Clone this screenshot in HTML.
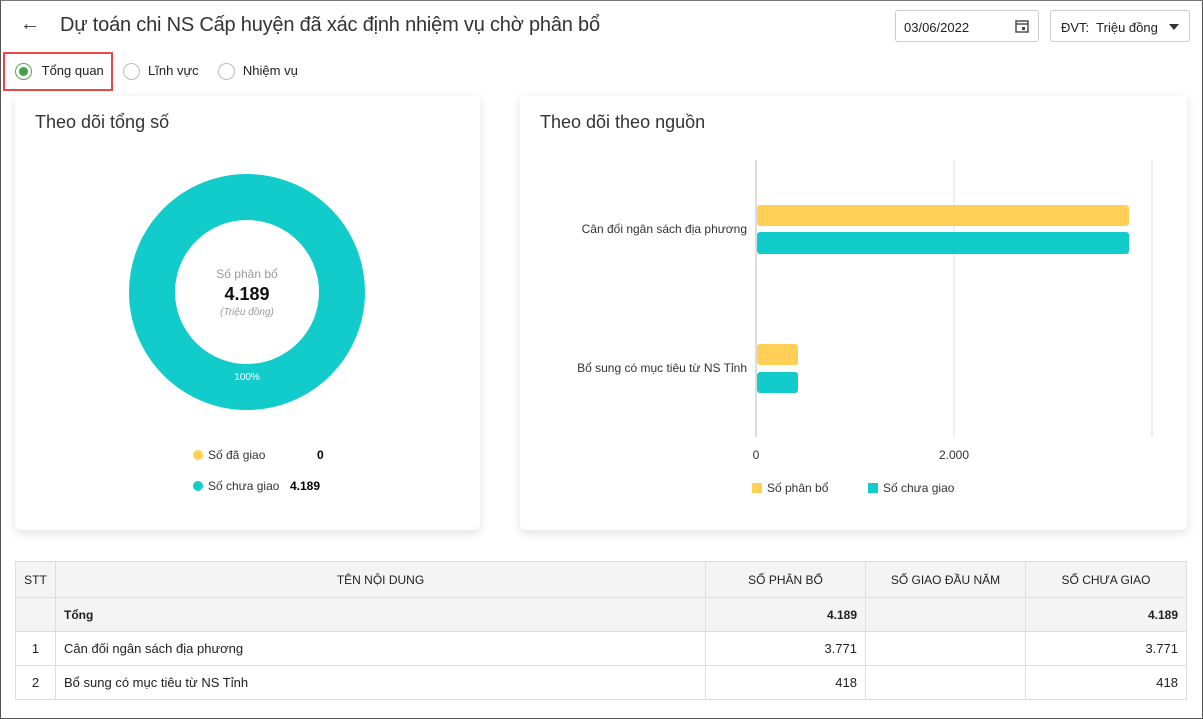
<!DOCTYPE html>
<html><head><meta charset="utf-8"><style>
*{box-sizing:border-box;margin:0;padding:0}
body{width:1203px;height:719px;background:#fff;font-family:"Liberation Sans",sans-serif;color:#212121;position:relative;overflow:hidden}
.frame{position:absolute;left:0;top:0;width:1203px;height:719px;border:1px solid #555;border-top-color:#777;pointer-events:none}
.abs{position:absolute}
.card{position:absolute;background:#fff;border-radius:6px;box-shadow:0 3px 10px rgba(0,0,0,.12)}
table{position:absolute;left:15px;top:561px;width:1172px;border-collapse:collapse;font-size:13px}
td,th{border:1px solid #ddd;height:34px;padding:0 8px}
th{background:#f4f4f4;font-weight:normal;font-size:12px;height:36px}
.r{text-align:right}.c{text-align:center}
tr.t td{background:#f4f4f4;font-weight:bold;font-size:12px}
.radio{display:inline-block;width:17px;height:17px;border:1px solid #bbb;border-radius:50%;vertical-align:middle;position:relative}
</style></head><body>
<div class="abs" style="left:20px;top:13px;font-size:20px;color:#333">←</div>
<div class="abs" style="left:60px;top:14px;font-size:20px;color:#333;letter-spacing:-0.2px">Dự toán chi NS Cấp huyện đã xác định nhiệm vụ chờ phân bổ</div>
<div class="abs" style="left:895px;top:10px;width:144px;height:32px;border:1px solid #ccc;border-radius:3px;font-size:13px;padding:9px 8px">03/06/2022
<svg style="position:absolute;right:8px;top:7px" width="16" height="16"><rect x="2" y="3" width="12" height="11" fill="none" stroke="#444" stroke-width="1.4"/><line x1="2" y1="6" x2="14" y2="6" stroke="#444" stroke-width="1.4"/><rect x="8" y="9" width="3" height="3" fill="#444"/></svg></div>
<div class="abs" style="left:1050px;top:10px;width:140px;height:32px;border:1px solid #ccc;border-radius:3px;font-size:13px;padding:9px 10px">ĐVT:&nbsp; Triệu đồng<span style="position:absolute;right:10px;top:13px;border:5px solid transparent;border-top:6px solid #333"></span></div>
<div class="abs" style="left:3px;top:52px;width:110px;height:39px;border:2px solid #e84848"></div>
<div class="abs" style="left:15px;top:62px;font-size:13px;line-height:18px">
<span class="radio" style="border-color:#4caf50"><span style="position:absolute;left:3px;top:3px;width:9px;height:9px;border-radius:50%;background:#43a047"></span></span> <span style="margin-left:6px">Tổng quan</span>
<span class="radio" style="margin-left:16px"></span> <span style="margin-left:4px">Lĩnh vực</span>
<span class="radio" style="margin-left:16px"></span> <span style="margin-left:4px">Nhiệm vụ</span></div>

<div class="card" style="left:15px;top:96px;width:465px;height:434px;border-top-left-radius:0;border-top-right-radius:0"></div>
<div class="card" style="left:520px;top:96px;width:667px;height:434px;border-top-left-radius:0;border-top-right-radius:0"></div>
<div class="abs" style="left:35px;top:112px;font-size:18px;color:#333">Theo dõi tổng số</div>
<div class="abs" style="left:540px;top:112px;font-size:18px;color:#333">Theo dõi theo nguồn</div>

<svg class="abs" style="left:0;top:0" width="1203" height="719">
<circle cx="247" cy="292" r="95" fill="none" stroke="#12cccc" stroke-width="46"/>
<text x="247" y="278" font-size="12" fill="#999" text-anchor="middle" font-family="Liberation Sans">Số phân bổ</text>
<text x="247" y="300" font-size="18" font-weight="bold" fill="#111" text-anchor="middle" font-family="Liberation Sans">4.189</text>
<text x="247" y="315" font-size="10" font-style="italic" fill="#999" text-anchor="middle" font-family="Liberation Sans">(Triệu đồng)</text>
<text x="247" y="380" font-size="10" fill="#fff" text-anchor="middle" font-family="Liberation Sans">100%</text>
<circle cx="198" cy="455" r="5" fill="#ffcf56"/><text x="208" y="459" font-size="12" fill="#333" font-family="Liberation Sans">Số đã giao</text><text x="317" y="459" font-size="12" font-weight="bold" font-family="Liberation Sans">0</text>
<circle cx="198" cy="486" r="5" fill="#12cccc"/><text x="208" y="490" font-size="12" fill="#333" font-family="Liberation Sans">Số chưa giao</text><text x="290" y="490" font-size="12" font-weight="bold" font-family="Liberation Sans">4.189</text>
<g stroke="#ddd"><line x1="756" y1="160" x2="756" y2="437" stroke="#bbb"/><line x1="954" y1="160" x2="954" y2="437"/><line x1="1152" y1="160" x2="1152" y2="437"/></g>
<rect x="757" y="205" width="372" height="21" rx="3" fill="#ffcf56"/>
<rect x="757" y="232" width="372" height="22" rx="3" fill="#12cccc"/>
<rect x="757" y="344" width="41" height="21" rx="3" fill="#ffcf56"/>
<rect x="757" y="372" width="41" height="21" rx="3" fill="#12cccc"/>
<g font-family="Liberation Sans" font-size="12" fill="#333">
<text x="747" y="233" text-anchor="end">Cân đối ngân sách địa phương</text>
<text x="747" y="372" text-anchor="end">Bổ sung có mục tiêu từ NS Tỉnh</text>
<text x="756" y="459" text-anchor="middle">0</text><text x="954" y="459" text-anchor="middle">2.000</text>
<rect x="752" y="483" width="10" height="10" fill="#ffcf56"/><text x="767" y="492">Số phân bổ</text>
<rect x="868" y="483" width="10" height="10" fill="#12cccc"/><text x="883" y="492">Số chưa giao</text>
</g>
</svg>

<table>
<tr><th style="width:40px">STT</th><th>TÊN NỘI DUNG</th><th style="width:160px">SỐ PHÂN BỔ</th><th style="width:160px">SỐ GIAO ĐẦU NĂM</th><th style="width:161px">SỐ CHƯA GIAO</th></tr>
<tr class="t"><td></td><td>Tổng</td><td class="r">4.189</td><td></td><td class="r">4.189</td></tr>
<tr><td class="c">1</td><td>Cân đối ngân sách địa phương</td><td class="r">3.771</td><td></td><td class="r">3.771</td></tr>
<tr><td class="c">2</td><td>Bổ sung có mục tiêu từ NS Tỉnh</td><td class="r">418</td><td></td><td class="r">418</td></tr>
</table>
<div class="frame"></div>
</body></html>
